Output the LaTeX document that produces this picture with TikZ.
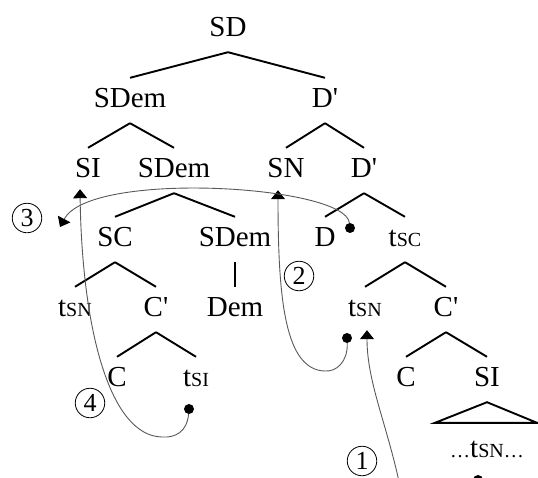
\documentclass[tikz,border=0pt]{standalone}
\usepackage{fontspec}
\setmainfont{Liberation Serif}
\usetikzlibrary{arrows.meta,calc}
\newcommand{\smc}[1]{{\fontsize{20}{20}\selectfont #1}}
\newcommand{\pr}{\textquotesingle}
\begin{document}
\begin{tikzpicture}[x=1pt,y=-1pt,
  lbl/.style={anchor=base, font=\fontsize{29}{30}\selectfont, text height=19.5pt, text depth=6.5pt, inner xsep=0pt, inner ysep=9.5pt},
  edge/.style={line width=1.9pt},
  mv/.style={line width=0.9pt, draw=black!65, -{Triangle[width=14pt,length=9pt,color=black]}},
  dot/.style={circle, fill=black, minimum size=10pt, inner sep=0pt},
  num/.style={circle, draw, line width=0.8pt, minimum size=29.5pt, inner sep=0pt, font=\fontsize{26}{26}\selectfont}]
\useasboundingbox (0,0) rectangle (538,477);
\clip (0,0) rectangle (538,477);
% nodes
\node[lbl] (SD) at (228,36) {SD};
\node[lbl] (SDem2) at (130,107) {SDem};
\node[lbl] (Dp2) at (325,107) {D\pr};
\node[lbl] (SI3) at (88,177) {SI};
\node[lbl] (SDem3) at (174,177) {SDem};
\node[lbl] (SN3) at (286,177) {SN};
\node[lbl] (Dp3) at (364,177) {D\pr};
\node[lbl] (SC4) at (115,246) {SC};
\node[lbl] (SDem4) at (235,246) {SDem};
\node[lbl] (D4) at (325,246) {D};
\node[lbl] (tsC4) at (405,246) {t\smc{SC}};
\node[lbl] (tsN5a) at (75,316) {t\smc{SN}};
\node[lbl] (Cp5a) at (156,316) {C\pr};
\node[lbl] (Dem5) at (235,316) {Dem};
\node[lbl] (tsN5b) at (365,316) {t\smc{SN}};
\node[lbl] (Cp5b) at (446,316) {C\pr};
\node[lbl] (C6a) at (117,386) {C};
\node[lbl] (tsI6) at (196,386) {t\smc{SI}};
\node[lbl] (C6b) at (406,386) {C};
\node[lbl] (SI6) at (487,386) {SI};
\node[lbl] (bot) at (487,457) {\smc{\ldots}t\smc{SN}\smc{\ldots}};
% tree edges
\draw[edge] (SD.south) -- (SDem2.north);
\draw[edge] (SD.south) -- (Dp2.north);
\draw[edge] (SDem2.south) -- (SI3.north);
\draw[edge] (SDem2.south) -- (SDem3.north);
\draw[edge] (Dp2.south) -- (SN3.north);
\draw[edge] (Dp2.south) -- (Dp3.north);
\draw[edge] (SDem3.south) -- (SC4.north);
\draw[edge] (SDem3.south) -- (SDem4.north);
\draw[edge] (Dp3.south) -- (D4.north);
\draw[edge] (Dp3.south) -- (tsC4.north);
\draw[edge] (SC4.south) -- (tsN5a.north);
\draw[edge] (SC4.south) -- (Cp5a.north);
\draw[edge] (SDem4.south) -- (Dem5.north);
\draw[edge] (tsC4.south) -- (tsN5b.north);
\draw[edge] (tsC4.south) -- (Cp5b.north);
\draw[edge] (Cp5a.south) -- (C6a.north);
\draw[edge] (Cp5a.south) -- (tsI6.north);
\draw[edge] (Cp5b.south) -- (C6b.north);
\draw[edge] (Cp5b.south) -- (SI6.north);
\draw[edge, line join=miter] (SI6.south) -- ([xshift=-52pt,yshift=5pt]bot.north) -- ([xshift=50pt,yshift=5pt]bot.north) -- cycle;
% movement dots
\node[dot] (d1) at (478,480) {};
\node[dot] (d2) at (347,338) {};
\node[dot] (d3) at (350,228) {};
\node[dot] (d4) at (189,409) {};
\coordinate (t3) at (60,227);
% movement arrows
\draw[mv] (d1.center) .. controls (478,535) and (402,535) .. (398,477)
  .. controls (385,420) and (367,380) .. ([xshift=2pt,yshift=2pt]tsN5b.south);
\draw[mv] (d2) .. controls (348,362) and (336,372) .. (325,371)
  .. controls (285,370) and (278,300) .. ([xshift=-8pt,yshift=3pt]SN3.south);
\draw[mv] (d3) .. controls (345,185) and (90,170) .. (t3);
\draw[mv] (d4) .. controls (187,432) and (175,438) .. (162,437)
  .. controls (110,436) and (82,330) .. ([xshift=-8pt,yshift=4pt]SI3.south);
% numbers
\node[num] (n1) at (362,461) {1};
\node[num] (n2) at (299,276) {2};
\node[num] (n3) at (27,218) {3};
\node[num] (n4) at (90,403) {4};
\end{tikzpicture}
\end{document}
